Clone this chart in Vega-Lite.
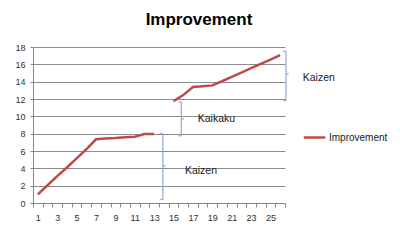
{
  "$schema": "https://vega.github.io/schema/vega-lite/v6.json",
  "width": 252,
  "height": 156,
  "autosize": {"type": "none"},
  "padding": {"left": 33, "top": 47, "right": 115, "bottom": 38},
  "background": "white",
  "config": {"view": {"stroke": null}, "font": "Liberation Sans"},
  "title": {"text": "Improvement", "fontSize": 17, "fontWeight": "bold", "color": "#000000", "anchor": "middle", "dx": 40, "offset": 14},
  "encoding": {
    "y": {
      "field": "y", "type": "quantitative",
      "scale": {"domain": [0, 18], "nice": false},
      "axis": {"title": null, "values": [0,2,4,6,8,10,12,14,16,18], "labelOverlap": false, "gridColor": "#8c8c8c", "domainColor": "#868686", "tickColor": "#868686", "tickSize": 3, "labelFontSize": 9, "labelColor": "#303030", "labelPadding": 5}
    }
  },
  "layer": [
    {
      "data": {"values": [
        {"x": 1, "y": 1.0, "seg": "a", "series": "Improvement"},
        {"x": 2, "y": 2.05, "seg": "a", "series": "Improvement"},
        {"x": 3, "y": 3.1, "seg": "a", "series": "Improvement"},
        {"x": 4, "y": 4.1, "seg": "a", "series": "Improvement"},
        {"x": 5, "y": 5.15, "seg": "a", "series": "Improvement"},
        {"x": 6, "y": 6.2, "seg": "a", "series": "Improvement"},
        {"x": 7, "y": 7.35, "seg": "a", "series": "Improvement"},
        {"x": 8, "y": 7.45, "seg": "a", "series": "Improvement"},
        {"x": 9, "y": 7.5, "seg": "a", "series": "Improvement"},
        {"x": 10, "y": 7.6, "seg": "a", "series": "Improvement"},
        {"x": 11, "y": 7.65, "seg": "a", "series": "Improvement"},
        {"x": 12, "y": 7.95, "seg": "a", "series": "Improvement"},
        {"x": 13, "y": 7.95, "seg": "a", "series": "Improvement"},
        {"x": 15, "y": 11.75, "seg": "b", "series": "Improvement"},
        {"x": 16, "y": 12.45, "seg": "b", "series": "Improvement"},
        {"x": 17, "y": 13.38, "seg": "b", "series": "Improvement"},
        {"x": 18, "y": 13.47, "seg": "b", "series": "Improvement"},
        {"x": 19, "y": 13.57, "seg": "b", "series": "Improvement"},
        {"x": 20, "y": 14.05, "seg": "b", "series": "Improvement"},
        {"x": 21, "y": 14.55, "seg": "b", "series": "Improvement"},
        {"x": 22, "y": 15.05, "seg": "b", "series": "Improvement"},
        {"x": 23, "y": 15.55, "seg": "b", "series": "Improvement"},
        {"x": 24, "y": 16.05, "seg": "b", "series": "Improvement"},
        {"x": 25, "y": 16.55, "seg": "b", "series": "Improvement"},
        {"x": 26, "y": 17.05, "seg": "b", "series": "Improvement"}
      ]},
      "mark": {"type": "line", "strokeWidth": 2.5},
      "encoding": {
        "x": {
          "field": "x", "type": "ordinal",
          "scale": {"type": "band", "domain": [1,2,3,4,5,6,7,8,9,10,11,12,13,14,15,16,17,18,19,20,21,22,23,24,25,26], "paddingInner": 0, "paddingOuter": 0},
          "axis": {"title": null, "labelAngle": 0, "tickBand": "extent", "labelExpr": "datum.value % 2 == 1 ? datum.label : ''", "labelOverlap": false, "grid": false, "domainColor": "#868686", "tickColor": "#868686", "tickSize": 4, "labelFontSize": 9, "labelColor": "#303030", "labelPadding": 6}
        },
        "color": {
          "field": "series", "type": "nominal",
          "scale": {"range": ["#BE4B48"]},
          "legend": {"title": null, "orient": "none", "legendX": 269, "legendY": 78, "symbolType": "stroke", "symbolSize": 466, "symbolStrokeWidth": 2.5, "labelFontSize": 10, "labelColor": "#202020", "labelOffset": 2}
        },
        "detail": {"field": "seg"}
      }
    },
    {
      "data": {"values": [
        {"x": 13.9, "x2": 13.9, "y": 0.4, "y2": 8.0},
        {"x": 13.62, "x2": 13.9, "y": 8.0, "y2": 8.0},
        {"x": 13.62, "x2": 13.9, "y": 0.4, "y2": 0.4},
        {"x": 13.9, "x2": 14.18, "y": 4.3, "y2": 4.3},
        {"x": 15.8, "x2": 15.8, "y": 7.75, "y2": 11.65},
        {"x": 15.52, "x2": 15.8, "y": 11.65, "y2": 11.65},
        {"x": 15.52, "x2": 15.8, "y": 7.75, "y2": 7.75},
        {"x": 15.8, "x2": 16.08, "y": 9.7, "y2": 9.7},
        {"x": 26.6, "x2": 26.6, "y": 11.8, "y2": 17.5},
        {"x": 26.32, "x2": 26.6, "y": 17.5, "y2": 17.5},
        {"x": 26.32, "x2": 26.6, "y": 11.8, "y2": 11.8},
        {"x": 26.6, "x2": 26.88, "y": 14.9, "y2": 14.9}
      ]},
      "mark": {"type": "rule", "color": "#8EA8CC", "strokeWidth": 1.2},
      "encoding": {
        "x": {"field": "x", "type": "quantitative", "scale": {"domain": [0.5, 26.5], "nice": false, "zero": false}, "axis": null},
        "x2": {"field": "x2"},
        "y2": {"field": "y2"}
      }
    },
    {
      "data": {"values": [
        {"x": 16.17, "y": 3.73, "label": "Kaizen"},
        {"x": 17.5, "y": 9.72, "label": "Kaikaku"},
        {"x": 28.33, "y": 14.45, "label": "Kaizen"}
      ]},
      "mark": {"type": "text", "align": "left", "baseline": "middle", "fontSize": 10.5, "color": "#202020"},
      "encoding": {
        "x": {"field": "x", "type": "quantitative", "scale": {"domain": [0.5, 26.5], "nice": false, "zero": false}, "axis": null},
        "text": {"field": "label"}
      }
    }
  ],
  "resolve": {"scale": {"x": "independent"}}
}
